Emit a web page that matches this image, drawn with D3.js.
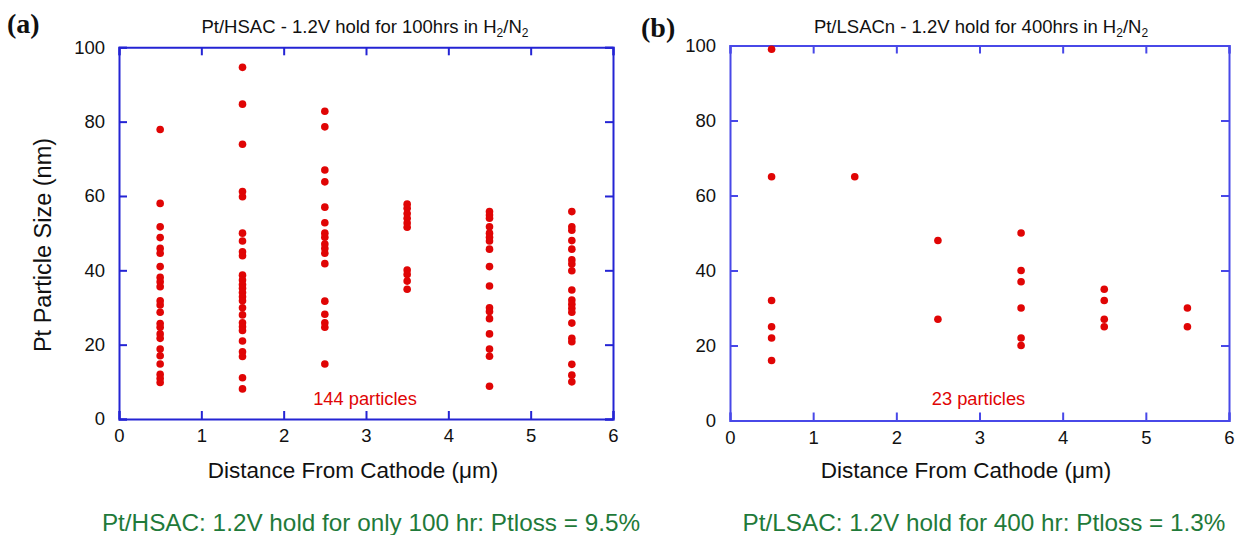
<!DOCTYPE html>
<html><head><meta charset="utf-8">
<script src="https://cdn.jsdelivr.net/npm/d3@7"></script>
<style>body{margin:0;background:#fff}svg{display:block}</style>
</head><body>
<svg id="c" width="1236" height="535" font-family="Liberation Sans, Arial, sans-serif"></svg>
<script>
// ---- data ----
const xTicks = [0,1,2,3,4,5,6];
const yTicks = [0,20,40,60,80,100];
const positions = [0.5,1.5,2.5,3.5,4.5,5.5];

// Panel (a): Pt/HSAC, particle sizes (nm) per distance
const hsac05 = [77.9,58.0,51.7,48.8,45.9,44.6,41.0,38.1,36.9,35.6,31.8,30.7,28.7,25.7,24.7,22.9,21.7,18.8,17.0,14.8,12.0,10.9,9.8];
const hsac15 = [94.6,84.7,73.9,61.2,59.8,50.0,47.9,45.0,43.9,38.7,37.4,36.2,35.2,34.0,32.9,31.8,29.9,28.0,25.9,24.8,23.8,21.0,18.1,16.8,11.1,8.1];
const hsac25 = [82.8,78.6,67.0,63.8,57.0,52.8,50.0,48.9,47.1,45.9,44.6,41.8,31.7,28.2,25.9,24.7,14.8];
const hsac35 = [57.8,56.7,55.3,54.0,52.7,51.6,40.1,38.9,37.1,34.9];
const hsac45 = [55.8,54.9,54.0,51.7,50.0,48.9,47.9,45.7,41.0,35.8,29.9,28.9,27.0,22.9,18.8,16.9,8.8];
const hsac55 = [55.8,51.7,50.8,48.0,45.7,42.8,41.7,39.9,34.7,32.0,30.9,29.8,28.7,25.8,21.7,20.8,14.7,11.8,10.0];

// Panel (b): Pt/LSACn
const lsac05 = [99,65,32,25,22,16];
const lsac15 = [65];
const lsac25 = [48,27];
const lsac35 = [50,40,37,30,22,20];
const lsac45 = [35,32,27,25];
const lsac55 = [30,25];

const titles = ["Pt/HSAC - 1.2V hold for 100hrs in H", "Pt/LSACn - 1.2V hold for 400hrs in H"];
const panelLabels = ["(a)","(b)"];
const countLabels = ["144 particles","23 particles"];
const captions = ["Pt/HSAC: 1.2V hold for only 100 hr: Ptloss = 9.5%","Pt/LSAC: 1.2V hold for 400 hr: Ptloss = 1.3%"];
const xTitle = "Distance From Cathode (\u03bcm)";
const yTitle = "Pt Particle Size (nm)";

// ---- drawing ----
const svg = d3.select("#c");
const panels = [
  {x0:119, x1:613, y0:419, y1:47.3, axis:"#2424d4", series:[hsac05,hsac15,hsac25,hsac35,hsac45,hsac55], tx:365, lx:7, ly:33, capx:371, xtx:353, showY:true},
  {x0:730, x1:1229, y0:420.5, y1:45.5, axis:"#4848e8", series:[lsac05,lsac15,lsac25,lsac35,lsac45,lsac55], tx:981, lx:641, ly:37, capx:984, xtx:966, showY:false}
];
const red = "#e00505";
const green = "#1f7a3a";

panels.forEach((p,i)=>{
  const x = d3.scaleLinear().domain([0,6]).range([p.x0,p.x1]);
  const y = d3.scaleLinear().domain([0,100]).range([p.y0,p.y1]);
  const g = svg.append("g");
  const tl = 8;
  const bottom = g.append("g").attr("transform",`translate(0,${p.y0})`)
    .call(d3.axisBottom(x).tickValues(xTicks).tickSize(-tl).tickPadding(10).tickFormat(d3.format("d")));
  const top = g.append("g").attr("transform",`translate(0,${p.y1})`)
    .call(d3.axisTop(x).tickValues(xTicks).tickSize(-tl).tickFormat(""));
  const left = g.append("g").attr("transform",`translate(${p.x0},0)`)
    .call(d3.axisLeft(y).tickValues(yTicks).tickSize(-tl).tickPadding(14).tickFormat(d3.format("d")));
  const right = g.append("g").attr("transform",`translate(${p.x1},0)`)
    .call(d3.axisRight(y).tickValues(yTicks).tickSize(-tl).tickFormat(""));
  [bottom,top,left,right].forEach(a=>{
    a.attr("font-family",null).attr("font-size",null);
    a.select(".domain").attr("stroke",p.axis).attr("stroke-width",2);
    a.selectAll(".tick line").attr("stroke",p.axis).attr("stroke-width",2);
    a.selectAll(".tick text").attr("fill","#111").style("font-size","18.5px").style("font-family","Liberation Sans, Arial, sans-serif");
  });
  p.series.forEach((vals,k)=>{
    g.selectAll(null).data(vals).enter().append("circle")
      .attr("cx",x(positions[k])).attr("cy",d=>y(d)).attr("r",3.8).attr("fill",red);
  });
  const t = g.append("text").attr("x",p.tx).attr("y",33).attr("text-anchor","middle").style("font-size","18.5px").attr("fill","#111");
  t.append("tspan").text(titles[i]);
  t.append("tspan").style("font-size","12px").attr("dy",4).text("2");
  t.append("tspan").attr("dy",-4).text("/N");
  t.append("tspan").style("font-size","12px").attr("dy",4).text("2");
  g.append("text").attr("x",p.lx).attr("y",p.ly).style("font-family","Liberation Serif, 'Times New Roman', serif")
    .style("font-weight","bold").style("font-size","28px").attr("fill","#111").text(panelLabels[i]);
  g.append("text").attr("x",(p.x0+p.x1)/2-1).attr("y",405).attr("text-anchor","middle").style("font-size","18.3px").attr("fill",red).text(countLabels[i]);
  g.append("text").attr("x",p.xtx).attr("y",478).attr("text-anchor","middle").style("font-size","22.5px").attr("fill","#111").text(xTitle);
  g.append("text").attr("x",p.capx).attr("y",531).attr("text-anchor","middle").style("font-size","24.3px").attr("fill",green).text(captions[i]);
  if(p.showY){
    g.append("text").attr("transform",`translate(51,245) rotate(-90)`).attr("text-anchor","middle")
      .style("font-size","23.5px").attr("fill","#111").text(yTitle);
  }
});
</script>
</body></html>
